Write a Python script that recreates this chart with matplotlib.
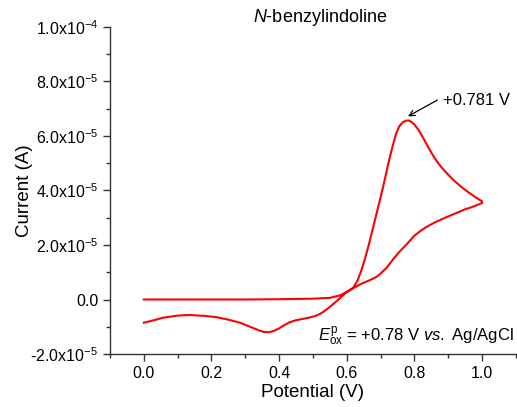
import numpy as np
import matplotlib
matplotlib.use("Agg")
import matplotlib.pyplot as plt
from matplotlib.ticker import MultipleLocator, FuncFormatter

plt.rcParams['font.family'] = ['Liberation Sans', 'DejaVu Sans']
plt.rcParams['mathtext.fontset'] = 'custom'
plt.rcParams['mathtext.rm'] = 'Liberation Sans'
plt.rcParams['mathtext.it'] = 'Liberation Sans:italic'
plt.rcParams['mathtext.bf'] = 'Liberation Sans:bold'

# Hinlauf (oxidativ), Potential in V, Strom in 1e-5 A
fwd_potential = [0.00, 0.10, 0.20, 0.30, 0.40, 0.50, 0.55, 0.58, 0.60, 0.619,
                 0.632, 0.644, 0.655, 0.665, 0.675, 0.685, 0.695, 0.705, 0.715,
                 0.725, 0.735, 0.745, 0.755, 0.765, 0.775, 0.782, 0.79, 0.80,
                 0.81, 0.82, 0.83, 0.84, 0.85, 0.86, 0.87, 0.88, 0.90, 0.92,
                 0.94, 0.96, 0.98, 1.00]
fwd_current = [0.00, 0.00, 0.00, 0.00, 0.01, 0.03, 0.06, 0.15, 0.28, 0.43,
               0.70, 1.10, 1.55, 2.00, 2.50, 3.00, 3.50, 4.00, 4.55,
               5.10, 5.60, 6.05, 6.35, 6.50, 6.56, 6.57, 6.53, 6.42,
               6.26, 6.06, 5.84, 5.61, 5.39, 5.19, 5.01, 4.85, 4.58, 4.33,
               4.12, 3.93, 3.76, 3.60]

# Rücklauf
rev_potential = [1.00, 0.98, 0.965, 0.95, 0.935, 0.90, 0.88, 0.856, 0.835, 0.817,
                 0.80, 0.787, 0.772, 0.757, 0.74, 0.718, 0.70, 0.688, 0.67, 0.655,
                 0.639, 0.62, 0.60, 0.585, 0.57, 0.555, 0.54, 0.525, 0.511, 0.49,
                 0.471, 0.45, 0.432, 0.415, 0.40, 0.385, 0.37, 0.355, 0.34, 0.32,
                 0.30, 0.284, 0.25, 0.216, 0.18, 0.136, 0.10, 0.056, 0.03, 0.00]
rev_current = [3.54, 3.44, 3.37, 3.31, 3.23, 3.05, 2.94, 2.80, 2.66, 2.51,
               2.34, 2.16, 1.96, 1.77, 1.52, 1.17, 0.95, 0.83, 0.72, 0.64,
               0.55, 0.42, 0.27, 0.11, -0.06, -0.22, -0.37, -0.50, -0.59, -0.66,
               -0.71, -0.76, -0.83, -0.94, -1.06, -1.15, -1.20, -1.19, -1.13, -1.03,
               -0.93, -0.85, -0.74, -0.65, -0.60, -0.57, -0.59, -0.67, -0.76, -0.85]

potential = np.array(fwd_potential + rev_potential)
current = np.array(fwd_current + rev_current) * 1e-5

fig = plt.figure(figsize=(5.17, 4.07), dpi=100)
ax = fig.add_axes([0.2128, 0.1302, 0.785, 0.8035])
ax.plot(potential, current, color='#ff0000', lw=1.5, solid_joinstyle='round')

ax.set_xlim(-0.1, 1.1)
ax.set_ylim(-2e-5, 1e-4)

ax.spines['top'].set_visible(False)
ax.spines['right'].set_visible(False)
for s in ['left', 'bottom']:
    ax.spines[s].set_linewidth(1.0)
    ax.spines[s].set_color('#333333')

ax.xaxis.set_major_locator(MultipleLocator(0.2))
ax.xaxis.set_minor_locator(MultipleLocator(0.1))
ax.yaxis.set_major_locator(MultipleLocator(2e-5))
ax.yaxis.set_minor_locator(MultipleLocator(1e-5))
ax.tick_params(which='major', direction='out', length=5, width=1, labelsize=11.5, color='#333333')
ax.tick_params(which='minor', direction='out', length=3, width=1, color='#333333')


def sci_label(v, pos):
    if abs(v) < 1e-12:
        return '0.0'
    e = int(np.floor(np.log10(abs(v))))
    m = v / 10 ** e
    return '%.1fx10$^{%d}$' % (m, e)


ax.yaxis.set_major_formatter(FuncFormatter(sci_label))
ax.xaxis.set_major_formatter(FuncFormatter(lambda v, p: '%.1f' % v))

ax.set_xlabel('Potential (V)', fontsize=13.5, labelpad=2)
ax.set_ylabel('Current (A)', fontsize=13.5, labelpad=-1.5)

fig.text(320 / 517, 1 - 18 / 407, r'$\it{N}$-benzylindoline', fontsize=13,
         ha='center', va='center')

# Pfeil und Beschriftung des Peaks
ax.annotate('', xy=(0.781, 6.72e-5), xytext=(0.868, 7.32e-5),
            arrowprops=dict(arrowstyle='->', color='black', lw=0.9,
                            shrinkA=0, shrinkB=0))
ax.text(0.885, 7.32e-5, '+0.781 V', fontsize=12, va='center', ha='left')

fig.text(0.994, 1 - 337 / 407,
         r'$E^{\mathrm{p}}_{\mathrm{ox}}$ = +0.78 V $\it{vs.}$ Ag/AgCl',
         fontsize=12, ha='right', va='center')

fig.savefig('out.png', dpi=100)
